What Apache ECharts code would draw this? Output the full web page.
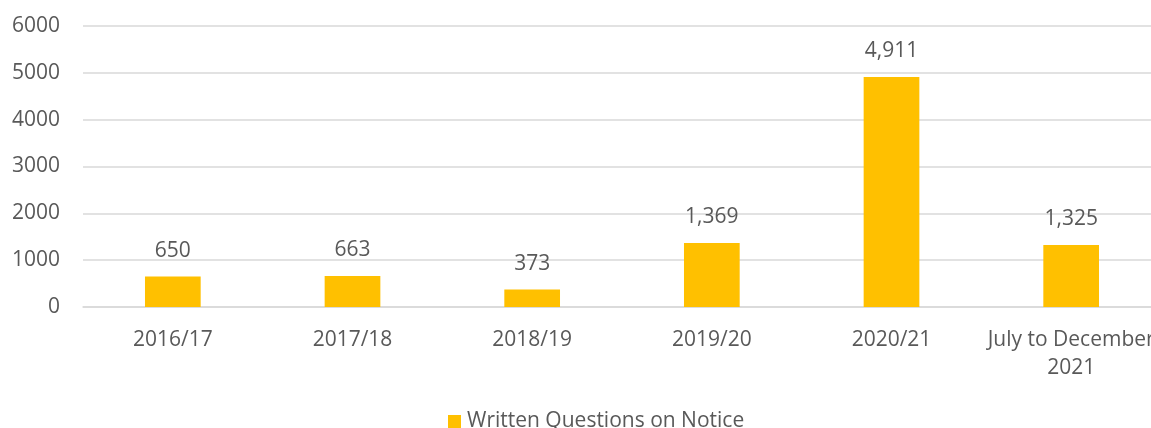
<!DOCTYPE html>
<html>
<head>
<meta charset="utf-8">
<script src="https://cdn.jsdelivr.net/npm/echarts@6/dist/echarts.min.js"></script>
<style>
  html, body { margin: 0; padding: 0; background: #ffffff; }
  #chart { width: 1151px; height: 428px; }
</style>
</head>
<body>
<div id="chart"></div>
<script>
// data
var categories = ['2016/17', '2017/18', '2018/19', '2019/20', '2020/21', 'July to December\n2021'];
var questions = [650, 663, 373, 1369, 4911, 1325];
var yTicks = [0, 1000, 2000, 3000, 4000, 5000, 6000];

var textColor = '#595959';
var gridColor = '#d9d9d9';
var font = '"Open Sans", "Noto Sans", sans-serif';

var chart = echarts.init(document.getElementById('chart'));

var option = {
    backgroundColor: '#ffffff',
    animation: false,
    grid: {
        left: 83,
        top: 26,
        width: 1078,
        bottom: 121,
        outerBoundsMode: 'none',
        containLabel: false
    },
    legend: {
        data: ['Written Questions on Notice'],
        left: 443,
        top: 406,
        icon: 'rect',
        itemWidth: 13,
        itemHeight: 13,
        itemGap: 7,
        textStyle: { color: textColor, fontSize: 21, fontFamily: font, padding: [0, 0, 0, 1] }
    },
    xAxis: {
        type: 'category',
        data: categories,
        axisLine: { lineStyle: { color: gridColor, width: 1.5 } },
        axisTick: { show: false },
        axisLabel: {
            color: textColor,
            fontSize: 21,
            fontFamily: font,
            margin: 19,
            lineHeight: 28,
            interval: 0,
            hideOverlap: false
        }
    },
    yAxis: {
        type: 'value',
        min: yTicks[0],
        max: yTicks[yTicks.length - 1],
        interval: 1000,
        axisLine: { show: false },
        axisTick: { show: false },
        splitLine: { lineStyle: { color: gridColor, width: 1.5 } },
        axisLabel: {
            color: textColor,
            fontSize: 21,
            fontFamily: font,
            margin: 23,
            formatter: function (v) { return String(v); }
        }
    },
    series: [
        {
            name: 'Written Questions on Notice',
            type: 'bar',
            data: questions,
            barWidth: '31%',
            itemStyle: { color: '#ffc000' },
            label: {
                show: true,
                position: 'top',
                distance: 15,
                color: textColor,
                fontSize: 21,
                fontFamily: font,
                formatter: function (p) {
                    return p.value.toLocaleString('en-US');
                }
            }
        }
    ]
};

chart.setOption(option);
</script>
</body>
</html>
